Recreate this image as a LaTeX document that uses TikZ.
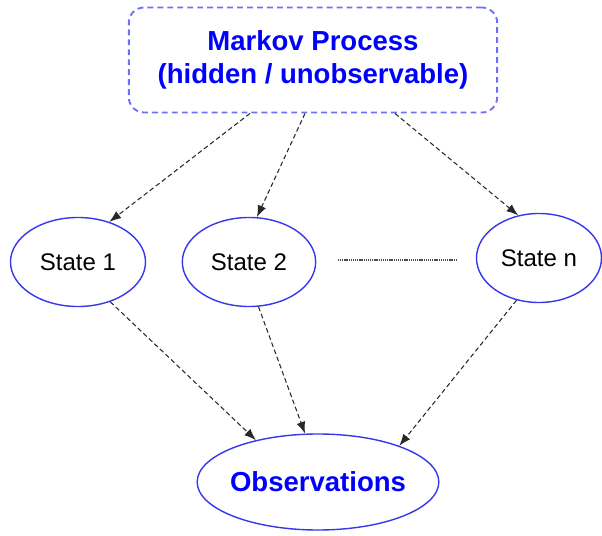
\documentclass[tikz,border=0pt]{standalone}
\usepackage{fontspec}
\setmainfont{Liberation Sans}
\usetikzlibrary{calc,shapes.geometric,arrows.meta}
\definecolor{boxblue}{RGB}{110,110,250}
\definecolor{lineblue}{RGB}{55,55,235}
\definecolor{txtblue}{RGB}{0,0,255}
\definecolor{arrgray}{RGB}{40,40,40}
\tikzset{procbox/.style={draw=boxblue,line width=1.6pt,dash pattern=on 5pt off 3.5pt,rounded corners=13pt,
  minimum width=11.05cm,minimum height=3.15cm,align=center,text=txtblue,font=\fontsize{23.5}{28.5}\selectfont\bfseries}}
\tikzset{statenode/.style={ellipse,draw=lineblue,line width=1.2pt,minimum height=2.67cm,inner sep=0pt,
  font=\fontsize{20.5}{24}\selectfont}}
\tikzset{obsnode/.style={ellipse,draw=lineblue,line width=1.2pt,minimum width=7.25cm,minimum height=2.88cm,
  inner xsep=-9pt,inner ysep=0pt,text=txtblue,font=\fontsize{23.5}{28}\selectfont\bfseries}}
\tikzset{dasharr/.style={-{Latex[length=10pt,width=7.5pt]},arrgray,line width=0.9pt,dash pattern=on 4pt off 2.5pt}}
\tikzset{dots/.style={black!70,line width=0.9pt,dash pattern=on 0.9pt off 0.7pt}}

\begin{document}
\begin{tikzpicture}[x=0.03cm,y=-0.03cm]
  \useasboundingbox (0,0) rectangle (602,536);
  \node[procbox] (mp) at (313,60) {Markov Process\\(hidden / unobservable)};
  \node[statenode,minimum width=4.05cm] (s1) at (78,262) {State 1};
  \node[statenode,minimum width=4cm] (s2) at (249,262) {State 2};
  \node[statenode,minimum width=3.75cm] (sn) at (539,258) {State n};
  \node[obsnode] (obs) at (318,482) {Observations};
  \coordinate (d1) at (338,260);
  \coordinate (d2) at (457,260);
  \draw[dots] (d1) -- (d2);
  \draw[dasharr] ($(mp.south)+(-63,0)$) -- (s1.52);
  \draw[dasharr] ($(mp.south)+(-8,0)$) -- (s2.80);
  \draw[dasharr] ($(mp.south)+(82,0)$) -- (sn.116);
  \draw[dasharr] (s1.-51) -- (obs.146);
  \draw[dasharr] (s2.-78) -- (obs.105);
  \draw[dasharr] (sn.-118) -- (obs.24);
\end{tikzpicture}
\end{document}
